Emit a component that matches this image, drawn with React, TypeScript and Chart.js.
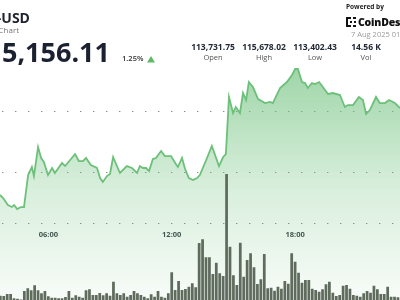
import React, { useEffect, useRef } from "react";
import { Chart, registerables } from "chart.js";

Chart.register(...registerables);

// price points: minutes since 00:00, and BTC-USD price
const PRICE_TIMES = [219, 228, 242, 254, 260, 269, 280, 289, 301, 312, 318, 330, 339, 347, 359, 371, 379, 400, 409, 438, 449, 461, 470, 484, 502, 511, 519, 531, 540, 549, 569, 589, 604, 619, 627, 636, 645, 654, 665, 674, 689, 700, 718, 732, 738, 750, 759, 770, 782, 794, 802, 823, 837, 858, 870, 878, 887, 899, 907, 919, 928, 937, 945, 957, 972, 992, 1007, 1015, 1036, 1056, 1071, 1080, 1088, 1100, 1109, 1117, 1129, 1138, 1150, 1161, 1176, 1190, 1211, 1225, 1234, 1249, 1266, 1278, 1287, 1298, 1316, 1327, 1342, 1354, 1371, 1386];
const PRICES = [113623, 113574, 113459, 113426, 113459, 113393, 113426, 113426, 113951, 114082, 113934, 114410, 114230, 114164, 113951, 114066, 113984, 114148, 114098, 114295, 114180, 114180, 114230, 114115, 114066, 113902, 113836, 113934, 113967, 114246, 113984, 114098, 114066, 113984, 114098, 114066, 114066, 114016, 114213, 114230, 114344, 114262, 114262, 114131, 114082, 114230, 114049, 113902, 113869, 113902, 113951, 114230, 114426, 114098, 114246, 114295, 115230, 114967, 115066, 114967, 115295, 115180, 115475, 115393, 115197, 115131, 115148, 115131, 115377, 115475, 115590, 115689, 115689, 115475, 115459, 115377, 115459, 115443, 115475, 115393, 115279, 115295, 115262, 115066, 115098, 115098, 115230, 115180, 114951, 115016, 115230, 115131, 115131, 115180, 115131, 115049];

// 10-minute volume bars starting at VOL_START (minutes)
const VOL_START = 220;
const VOL_STEP = 10;
const VOLUMES = [17, 16, 24, 24, 7, 5, 2, 36, 47, 39, 59, 39, 27, 36, 15, 9, 9, 7, 7, 12, 36, 9, 19, 13, 9, 39, 43, 20, 20, 28, 19, 27,
  17, 73, 27, 20, 27, 13, 20, 36, 27, 20, 13, 7, 23, 13, 36, 13, 9, 27, 111, 40, 76, 40, 44, 53, 67, 51,
  228, 243, 171, 171, 104, 149, 107, 96, 504, 213, 99, 60, 229, 93, 160, 187, 131, 64, 83, 184, 47, 49, 37, 53, 45, 76, 65, 187, 153, 109, 69, 80, 80, 45, 40, 33, 43, 63, 73, 29, 16, 20, 57, 60, 45, 20, 17, 13, 27, 36, 29, 57, 43, 24, 24, 53, 13, 13, 11];

const TIME_TICKS = [360, 720, 1080];
const PRICE_GRID = [114000, 115000];
const AXIS_PRICE = 113148;
const X_MIN = 219;
const X_MAX = 1386;
const PRICE_MIN = 111902;
const PRICE_MAX = 116820;
const VOL_MAX = 1200;

const STATS = [
  { value: "113,731.75", label: "Open" },
  { value: "115,678.02", label: "High" },
  { value: "113,402.43", label: "Low" },
  { value: "14.56 K", label: "Vol" },
];
const STAT_CENTERS = [213, 264, 315, 366];

const fmtTime = (v: number) =>
  `${String(Math.floor(v / 60)).padStart(2, "0")}:${String(Math.round(v % 60)).padStart(2, "0")}`;

const FONT = "'Open Sans', 'Noto Sans', sans-serif";

export default function App() {
  const ref = useRef<HTMLCanvasElement | null>(null);

  useEffect(() => {
    if (!ref.current) return;
    const chart = new Chart(ref.current, {
      type: "line",
      data: {
        datasets: [
          {
            type: "bar",
            data: VOLUMES.map((v, i) => ({ x: VOL_START + i * VOL_STEP, y: v })),
            yAxisID: "yv",
            xAxisID: "x",
            backgroundColor: "#5f6b5d",
            borderWidth: 0,
            barPercentage: 0.8,
            categoryPercentage: 1,
            order: 0,
          } as any,
          {
            type: "line",
            data: PRICE_TIMES.map((t, i) => ({ x: t, y: PRICES[i] })),
            yAxisID: "y",
            xAxisID: "x",
            borderColor: "#6cc07a",
            borderWidth: 1.8,
            pointRadius: 0,
            tension: 0,
            fill: "start",
            backgroundColor: (c: any) => {
              const { chart: ch } = c;
              const area = ch.chartArea;
              if (!area) return "rgba(108,192,122,0.3)";
              const g = ch.ctx.createLinearGradient(0, area.top + 60, 0, area.bottom);
              g.addColorStop(0, "rgba(108,192,122,0.68)");
              g.addColorStop(0.55, "rgba(108,192,122,0.25)");
              g.addColorStop(1, "rgba(108,192,122,0.05)");
              return g;
            },
            order: 1,
          } as any,
        ],
      },
      options: {
        animation: false,
        responsive: false,
        events: [],
        layout: { padding: 0 },
        plugins: { legend: { display: false }, tooltip: { enabled: false } },
        scales: {
          x: {
            type: "linear",
            min: X_MIN,
            max: X_MAX,
            offset: false,
            position: { y: AXIS_PRICE } as any,
            afterBuildTicks: (s: any) => {
              s.ticks = TIME_TICKS.map((v) => ({ value: v }));
            },
            grid: { display: false, drawTicks: false },
            border: { display: false },
            ticks: {
              padding: 6,
              color: "#3a3f47",
              font: { family: FONT, size: 7.5, weight: "bold" },
              callback: (v: any) => fmtTime(Number(v)),
              maxRotation: 0,
              autoSkip: false,
            },
          },
          y: {
            type: "linear",
            min: PRICE_MIN,
            max: PRICE_MAX,
            position: "right",
            afterBuildTicks: (s: any) => {
              s.ticks = [AXIS_PRICE, ...PRICE_GRID].map((v) => ({ value: v }));
            },
            ticks: { display: false },
            grid: { drawTicks: false, color: "rgba(110,110,110,0.8)", lineWidth: 1 },
            border: { display: false, dash: [1.4, 11.6], dashOffset: -2 },
          },
          yv: {
            type: "linear",
            display: false,
            min: 0,
            max: VOL_MAX,
          },
        },
      } as any,
    });
    return () => chart.destroy();
  }, []);

  const abs = (s: React.CSSProperties): React.CSSProperties => ({
    position: "absolute",
    lineHeight: 1,
    whiteSpace: "nowrap",
    ...s,
  });

  return (
    <div
      style={{
        position: "fixed",
        left: 0,
        top: 0,
        width: 400,
        height: 300,
        overflow: "hidden",
        background: "#fff",
        fontFamily: FONT,
      }}
    >
      <canvas ref={ref} width={400} height={300} style={{ position: "absolute", left: 0, top: 0, display: "block" }} />
      <div style={abs({ right: 370, top: 11, fontSize: 14, fontWeight: 700, color: "#1d2330" })}>BTC-USD</div>
      <div style={abs({ right: 381, top: 26, fontSize: 8, color: "#777" })}>Bitcoin Price Chart</div>
      <div style={abs({ right: 290, top: 38, fontSize: 27, fontWeight: 700, color: "#1b2130" })}>115,156.11</div>
      <div style={abs({ left: 122, top: 54.5, fontSize: 7.5, fontWeight: 600, color: "#333" })}>1.25%</div>
      <div
        style={{
          position: "absolute",
          left: 147,
          top: 56,
          width: 8,
          height: 6.5,
          background: "#5dbb63",
          clipPath: "polygon(50% 0, 100% 100%, 0 100%)",
        }}
      />
      {STATS.map((s, i) => (
        <React.Fragment key={s.label}>
          <div style={abs({ left: STAT_CENTERS[i] - 40, width: 80, textAlign: "center", top: 42.5, fontSize: 8.5, fontWeight: 700, color: "#222a36" })}>
            {s.value}
          </div>
          <div style={abs({ left: STAT_CENTERS[i] - 40, width: 80, textAlign: "center", top: 53.5, fontSize: 7.5, color: "#555" })}>
            {s.label}
          </div>
        </React.Fragment>
      ))}
      <div style={abs({ left: 346, top: 4, fontSize: 6.5, fontWeight: 700, color: "#222" })}>Powered by</div>
      <div style={{ position: "absolute", left: 346, top: 17, width: 10, height: 10 }}>
        <div style={{ position: "absolute", left: 0, top: 0, width: 2, height: 10, background: "#111" }} />
        <div style={{ position: "absolute", left: 0, top: 0, width: 5, height: 2, background: "#111" }} />
        <div style={{ position: "absolute", left: 0, top: 8, width: 5, height: 2, background: "#111" }} />
        <div style={{ position: "absolute", left: 7, top: 0, width: 3, height: 2, background: "#111" }} />
        <div style={{ position: "absolute", left: 7, top: 8, width: 3, height: 2, background: "#111" }} />
        <div style={{ position: "absolute", left: 4, top: 4, width: 2, height: 2, background: "#111" }} />
        <div style={{ position: "absolute", left: 8, top: 4, width: 2, height: 2, background: "#111" }} />
      </div>
      <div style={abs({ left: 358, top: 17, fontSize: 10.5, fontWeight: 800, color: "#111", letterSpacing: -0.2 })}>CoinDesk</div>
      <div style={abs({ left: 351, top: 31, fontSize: 7.5, color: "#9a9a9a" })}>7 Aug 2025 01:05 UTC</div>
    </div>
  );
}
